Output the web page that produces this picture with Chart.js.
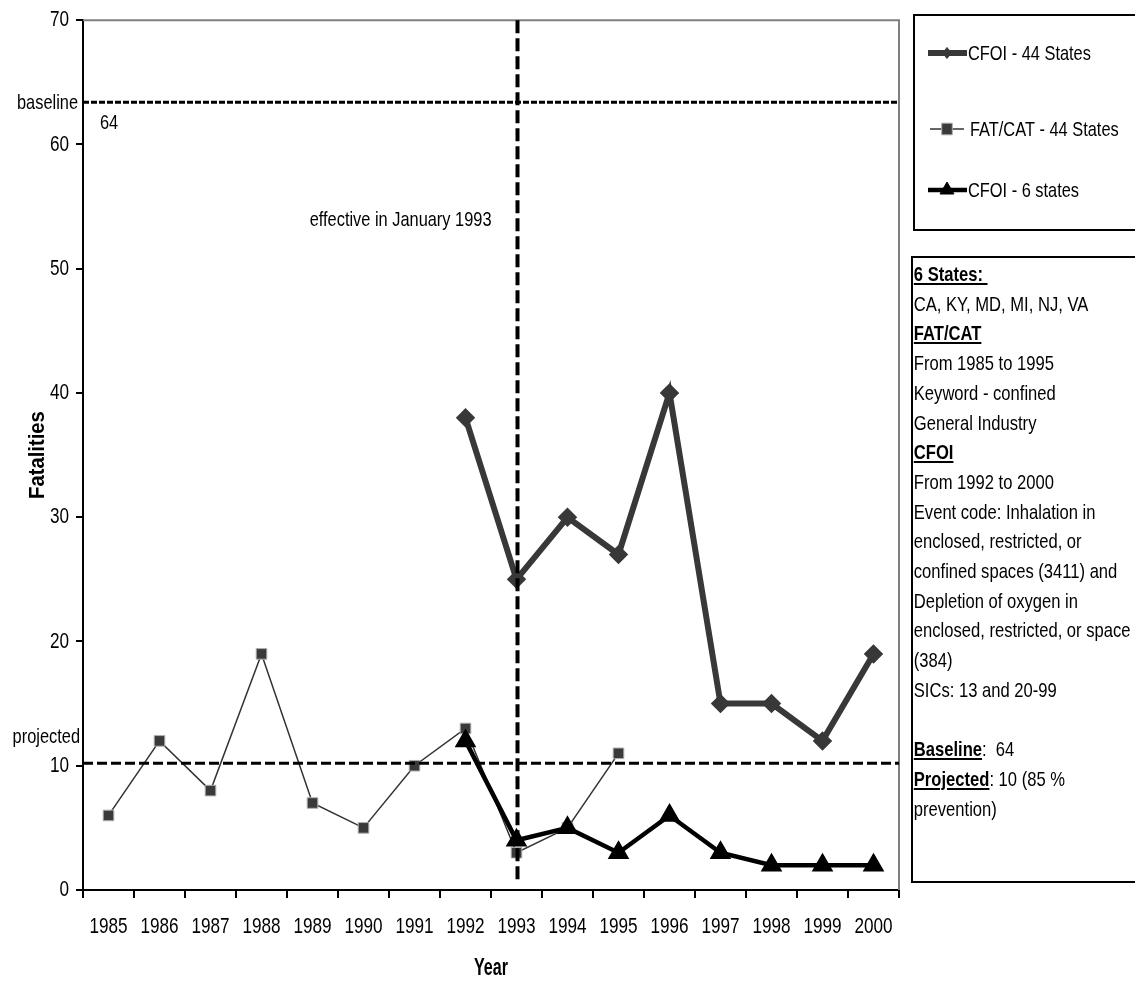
<!DOCTYPE html>
<html>
<head>
<meta charset="utf-8">
<title>Confined space fatalities</title>
<script src="https://cdn.jsdelivr.net/npm/chart.js"></script>
<style>
html, body { margin: 0; padding: 0; background: #fff; }
#wrap { position: relative; width: 1135px; height: 982px; overflow: hidden; }
#notes {
  position: absolute; left: 911px; top: 256px; width: 240px; height: 627px;
  box-sizing: border-box; border: 2px solid #000; overflow: hidden;
}
#notesText {
  position: absolute; left: 0; top: 0; width: 400px; padding: 1px 0 0 1px;
  font-family: "Liberation Sans", Arial, sans-serif;
  font-size: 21px; line-height: 29.7px; color: #000; white-space: pre;
  transform: scaleX(0.79); transform-origin: 0 0;
}
#notesText b { text-decoration: underline; }
</style>
</head>
<body>
<div id="wrap">
  <canvas id="chart" width="1135" height="982"></canvas>
  <div id="notes"><div id="notesText"></div></div>
</div>
<script>
// data
const years = ['1985','1986','1987','1988','1989','1990','1991','1992',
               '1993','1994','1995','1996','1997','1998','1999','2000'];
const cfoi44 = [null,null,null,null,null,null,null,38,25,30,27,40,15,15,12,19];
const fatcat = [6,12,8,19,7,5,10,13,3,5,11,null,null,null,null,null];
const cfoi6  = [null,null,null,null,null,null,null,12,4,5,3,6,3,2,2,2];

// reference lines
const baselineValue = 63.4;   // drawn slightly under the 64 label in the source
const baselineLabel = '64';
const projectedValue = 10.2;
const effectiveYear = '1993';

const noteLines = [
  ['b', '6 States: '],
  ['', 'CA, KY, MD, MI, NJ, VA'],
  ['b', 'FAT/CAT'],
  ['', 'From 1985 to 1995'],
  ['', 'Keyword - confined'],
  ['', 'General Industry'],
  ['b', 'CFOI'],
  ['', 'From 1992 to 2000'],
  ['', 'Event code: Inhalation in'],
  ['', 'enclosed, restricted, or'],
  ['', 'confined spaces (3411) and'],
  ['', 'Depletion of oxygen in'],
  ['', 'enclosed, restricted, or space'],
  ['', '(384)'],
  ['', 'SICs: 13 and 20-99'],
  ['', ' '],
  ['b:', 'Baseline', ':  64'],
  ['b:', 'Projected', ': 10 (85 %'],
  ['', 'prevention)']
];

const sans = '"Liberation Sans", Arial, sans-serif';

// no narrow font here, so squeeze canvas text sideways like Arial Narrow
const squeeze = { 'Year': 0.7, 'Fatalities': 0.92 };
const nativeFill = CanvasRenderingContext2D.prototype.fillText;
CanvasRenderingContext2D.prototype.fillText = function (t, x, y, maxW) {
  const w = this.measureText(t).width * (squeeze[t] || 0.78);
  return nativeFill.call(this, t, x, y, maxW !== undefined ? Math.min(maxW, w) : w);
};

// notes box
let html = '';
noteLines.forEach(l => {
  if (l[0] === 'b') html += '<b>' + l[1] + '</b>\n';
  else if (l[0] === 'b:') html += '<b>' + l[1] + '</b>' + l[2] + '\n';
  else html += l[1] + '\n';
});
document.getElementById('notesText').innerHTML = html;

function drawMarker(ctx, style, x, y, r, fill, stroke) {
  ctx.save();
  ctx.fillStyle = fill;
  ctx.strokeStyle = stroke;
  ctx.lineWidth = 1;
  ctx.beginPath();
  if (style === 'rectRot') {
    ctx.moveTo(x, y - r); ctx.lineTo(x + r * 0.8, y); ctx.lineTo(x, y + r); ctx.lineTo(x - r * 0.8, y);
  } else if (style === 'rect') {
    const s = r * Math.SQRT1_2;
    ctx.rect(x - s, y - s * 1.1, 2 * s, 2.2 * s);
  } else {
    ctx.moveTo(x, y - r); ctx.lineTo(x + r * 0.87, y + r * 0.5); ctx.lineTo(x - r * 0.87, y + r * 0.5);
  }
  ctx.closePath();
  ctx.fill();
  ctx.stroke();
  ctx.restore();
}

const extras = {
  id: 'extras',
  afterDatasetsDraw(chart) {
    const ctx = chart.ctx;
    const a = chart.chartArea;
    const xs = chart.scales.x, ys = chart.scales.y;
    ctx.save();
    // grey frame top and right
    ctx.strokeStyle = '#808080';
    ctx.lineWidth = 2;
    ctx.beginPath();
    ctx.moveTo(a.left, a.top); ctx.lineTo(a.right, a.top); ctx.lineTo(a.right, a.bottom);
    ctx.stroke();

    ctx.strokeStyle = '#000';
    // baseline
    const yb = ys.getPixelForValue(baselineValue);
    ctx.lineWidth = 3;
    ctx.setLineDash([6, 2]);
    ctx.beginPath(); ctx.moveTo(a.left, yb); ctx.lineTo(a.right, yb); ctx.stroke();
    // projected
    const yp = ys.getPixelForValue(projectedValue);
    ctx.lineWidth = 3;
    ctx.setLineDash([10, 4]);
    ctx.beginPath(); ctx.moveTo(a.left, yp); ctx.lineTo(a.right, yp); ctx.stroke();
    // effective year
    const xe = xs.getPixelForValue(years.indexOf(effectiveYear)) + 1;
    ctx.lineWidth = 4;
    ctx.setLineDash([13, 5]);
    ctx.beginPath(); ctx.moveTo(xe, a.top); ctx.lineTo(xe, a.bottom - 8); ctx.stroke();
    ctx.setLineDash([]);

    ctx.fillStyle = '#000';
    ctx.font = '21px ' + sans;
    ctx.textBaseline = 'middle';
    ctx.textAlign = 'right';
    ctx.fillText('baseline', a.left - 5, yb + 1);
    ctx.fillText('projected', a.left - 3, yp - 26);
    ctx.fillText('effective in January 1993', xe - 26, ys.getPixelForValue(53.9));
    ctx.textAlign = 'left';
    ctx.fillText(baselineLabel, a.left + 17, yb + 21);

    // legend box
    ctx.lineWidth = 2;
    ctx.strokeRect(914, 15, 240, 215);
    const items = [[0, 53, 'CFOI - 44 States'], [1, 129, 'FAT/CAT - 44 States'], [2, 190, 'CFOI - 6 states']];
    items.forEach(([i, y, txt]) => {
      const ds = chart.data.datasets[i];
      ctx.strokeStyle = ds.borderColor;
      ctx.lineWidth = ds.borderWidth;
      ctx.beginPath();
      ctx.moveTo(i === 1 ? 930 : 928, y);
      ctx.lineTo(i === 1 ? 964 : 967, y);
      ctx.stroke();
      drawMarker(ctx, ds.pointStyle, 947, y, ds.pointRadius, ds.pointBackgroundColor, ds.pointBorderColor);
      ctx.fillStyle = '#000';
      ctx.fillText(txt, i === 1 ? 970 : 968, y + 1);
    });
    ctx.restore();
  }
};

new Chart(document.getElementById('chart'), {
  type: 'line',
  data: {
    labels: years,
    datasets: [{
      label: 'CFOI - 44 States',
      data: cfoi44,
      borderColor: '#383838',
      borderWidth: 6,
      pointStyle: 'rectRot',
      pointRadius: 5.5,
      pointBackgroundColor: '#383838',
      pointBorderColor: '#383838',
      order: 3
    }, {
      label: 'FAT/CAT - 44 States',
      data: fatcat,
      borderColor: '#333333',
      borderWidth: 1.5,
      pointStyle: 'rect',
      pointRadius: 7.5,
      pointBackgroundColor: '#3a3a3a',
      pointBorderColor: '#b0b0b0',
      pointBorderWidth: 1,
      order: 2
    }, {
      label: 'CFOI - 6 states',
      data: cfoi6,
      borderColor: '#000000',
      borderWidth: 4.5,
      pointStyle: 'triangle',
      pointRadius: 8,
      pointBackgroundColor: '#000000',
      pointBorderColor: '#000000',
      order: 1
    }]
  },
  options: {
    responsive: false,
    animation: false,
    layout: { padding: { top: 16, right: 236, bottom: 0, left: 0 } },
    elements: { line: { tension: 0, fill: false } },
    plugins: { legend: { display: false }, tooltip: { enabled: false } },
    scales: {
      x: {
        type: 'category',
        offset: true,
        grid: { display: true, drawOnChartArea: false, drawTicks: true, tickLength: 8,
                color: '#000', lineWidth: 2, offset: true },
        border: { display: true, color: '#000', width: 2 },
        ticks: { color: '#000', font: { family: sans, size: 22 }, padding: 16,
                 maxRotation: 0, autoSkip: false },
        title: { display: true, text: 'Year', color: '#000',
                 font: { family: sans, size: 23, weight: 'bold' }, padding: { top: 0, bottom: 0 } },
        afterFit: s => { s.height = 92; }
      },
      y: {
        min: 0, max: 70,
        grid: { display: true, drawOnChartArea: false, drawTicks: true, tickLength: 7,
                color: '#000', lineWidth: 2 },
        border: { display: true, color: '#000', width: 2 },
        ticks: { stepSize: 10, color: '#000', font: { family: sans, size: 22 }, padding: 7 },
        title: { display: true, text: 'Fatalities', color: '#000',
                 font: { family: sans, size: 22, weight: 'bold' }, padding: { top: 25, bottom: 0 } },
        afterFit: s => { s.width = 83; }
      }
    }
  },
  plugins: [extras]
});
</script>
</body>
</html>
